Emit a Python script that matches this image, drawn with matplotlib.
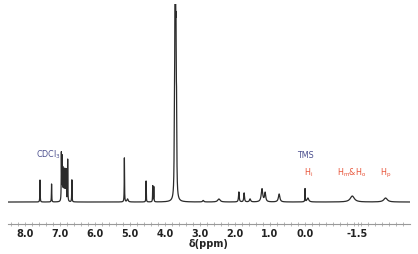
import matplotlib
matplotlib.use("Agg")
import matplotlib.pyplot as plt
import numpy as np

# peak list: position (ppm), height (baseline = 0), half-width (ppm)
PEAK_PPM = [7.57, 7.24, 6.96, 6.94, 6.92, 6.90, 6.88, 6.86, 6.84, 6.82, 6.78, 6.66,
            5.16, 5.07, 4.54, 4.35, 4.32,
            3.73, 3.715, 3.70, 3.685, 3.67,
            2.91, 2.46, 1.89, 1.74, 1.57, 1.23, 1.14, 0.74,
            0.00, -0.08, -1.35, -2.30]
PEAK_HEIGHT = [22, 18, 47, 42, 30, 28, 29, 28, 29, 30, 42, 22,
               44, 3, 21, 16, 15,
               70, 150, 185, 120, 70,
               1.5, 3, 10, 9, 3, 13, 9, 8,
               13, 4, 6, 4]
PEAK_WIDTH = [0.005, 0.005, 0.005, 0.005, 0.005, 0.005, 0.005, 0.005, 0.005, 0.005, 0.005, 0.005,
              0.005, 0.02, 0.005, 0.005, 0.005,
              0.008, 0.008, 0.008, 0.008, 0.008,
              0.02, 0.04, 0.012, 0.012, 0.02, 0.025, 0.02, 0.025,
              0.005, 0.03, 0.07, 0.06]

MAJOR_TICKS = [8.0, 7.0, 6.0, 5.0, 4.0, 3.0, 2.0, 1.0, 0.0, -1.5]
TICK_LABELS = ["8.0", "7.0", "6.0", "5.0", "4.0", "3.0", "2.0", "1.0", "0.0", "-1.5"]

BLUE = "#4b4f8e"
RED = "#e8553a"

ppm = np.linspace(8.5, -3.0, 40000)
spec = np.zeros_like(ppm)
for x0, h, w in zip(PEAK_PPM, PEAK_HEIGHT, PEAK_WIDTH):
    spec += h * w**2 / ((ppm - x0) ** 2 + w**2)

fig = plt.figure(figsize=(4.18, 2.54), dpi=100)
ax = fig.add_axes([0.019, 0.118, 0.962, 0.866])
ax.plot(ppm, spec, color="#2b2b2b", lw=0.9)

ax.set_xlim(8.486, -3.0)
ax.set_ylim(-22, 198)
for s in ("top", "right", "left"):
    ax.spines[s].set_visible(False)
ax.spines["bottom"].set_color("#9a9a9a")
ax.spines["bottom"].set_linewidth(0.8)
ax.set_yticks([])

ax.set_xticks(MAJOR_TICKS)
ax.set_xticklabels(TICK_LABELS, fontsize=7, fontweight="bold", color="#222222")
ax.set_xticks(np.arange(-2.8, 8.41, 0.2), minor=True)
ax.tick_params(axis="x", which="both", direction="inout", length=2.5,
               width=0.5, color="#9a9a9a", pad=2)
ax.set_xlabel("δ(ppm)", fontsize=7, fontweight="bold", color="#222222", labelpad=0)

txt = dict(fontsize=5.8, ha="center", va="center")
ax.text(7.34, 47, r"CDCl$\mathregular{_3}$", color=BLUE, **txt)
ax.text(0.0, 47, "TMS", color=BLUE, **txt)
ax.text(-0.09, 29, r"H$\mathregular{_i}$", color=RED, **txt)
ax.text(-1.34, 29, r"H$\mathregular{_m}$&H$\mathregular{_o}$", color=RED, **txt)
ax.text(-2.29, 29, r"H$\mathregular{_p}$", color=RED, **txt)

fig.savefig("out.png", dpi=100)
